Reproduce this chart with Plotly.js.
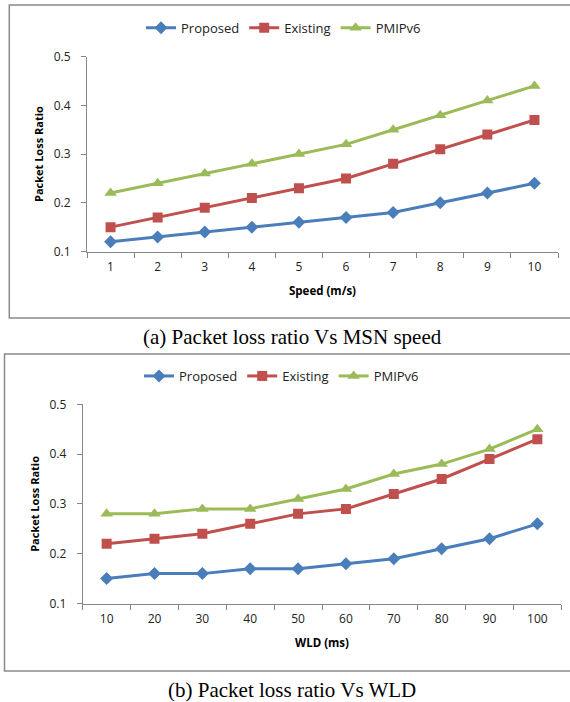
<!DOCTYPE html>
<html>
<head>
<meta charset="utf-8">
<script src="https://cdn.plot.ly/plotly-3.0.1.min.js"></script>
<style>
  html, body { margin: 0; padding: 0; background: #ffffff; }
  #chart { width: 570px; height: 702px; }
</style>
</head>
<body>
<div id="chart"></div>
<script>
// ---- Data ----
const speedLabels = ['1','2','3','4','5','6','7','8','9','10'];
const wldLabels = ['10','20','30','40','50','60','70','80','90','100'];
const seriesNames = ['Proposed', 'Existing', 'PMIPv6'];

const speedProposed = [0.12, 0.13, 0.14, 0.15, 0.16, 0.17, 0.18, 0.20, 0.22, 0.24];
const speedExisting = [0.15, 0.17, 0.19, 0.21, 0.23, 0.25, 0.28, 0.31, 0.34, 0.37];
const speedPMIPv6   = [0.22, 0.24, 0.26, 0.28, 0.30, 0.32, 0.35, 0.38, 0.41, 0.44];

const wldProposed = [0.15, 0.16, 0.16, 0.17, 0.17, 0.18, 0.19, 0.21, 0.23, 0.26];
const wldExisting = [0.22, 0.23, 0.24, 0.26, 0.28, 0.29, 0.32, 0.35, 0.39, 0.43];
const wldPMIPv6   = [0.28, 0.28, 0.29, 0.29, 0.31, 0.33, 0.36, 0.38, 0.41, 0.45];

const yTickVals = [0.1, 0.2, 0.3, 0.4, 0.5];
const yTickText = ['0.1', '0.2', '0.3', '0.4', '0.5'];

const captionA = '(a) Packet loss ratio Vs MSN speed';
const captionB = '(b) Packet loss ratio Vs WLD';
const yTitle = 'Packet Loss Ratio';
const xTitleA = 'Speed (m/s)';
const xTitleB = 'WLD (ms)';

// ---- Styles ----
const W = 570, H = 702;
const px = v => v / W;
const py = v => 1 - v / H;
const colors = ['#4A7EBB', '#C0504D', '#9BBB59'];
const symbols = ['diamond', 'square', 'triangle-up'];
const msizes = [10, 10, 11];
const uiFont = '"Open Sans", "Noto Sans", sans-serif';
const textColor = '#222222';
const axisColor = '#868686';

function mk(x, y, i, xa, ya, legendId) {
  return {
    type: 'scatter', mode: 'lines+markers',
    x: x, y: y, name: seriesNames[i],
    xaxis: xa, yaxis: ya, legend: legendId,
    line: { color: colors[i], width: 3 },
    marker: { color: colors[i], symbol: symbols[i], size: msizes[i], line: { width: 0 } }
  };
}

const data = [
  mk(speedLabels, speedProposed, 0, 'x', 'y', 'legend'),
  mk(speedLabels, speedExisting, 1, 'x', 'y', 'legend'),
  mk(speedLabels, speedPMIPv6, 2, 'x', 'y', 'legend'),
  mk(wldLabels, wldProposed, 0, 'x2', 'y2', 'legend2'),
  mk(wldLabels, wldExisting, 1, 'x2', 'y2', 'legend2'),
  mk(wldLabels, wldPMIPv6, 2, 'x2', 'y2', 'legend2')
];

function xAxis(domain, cats, title, anchor) {
  return {
    domain: domain, anchor: anchor, type: 'category',
    categoryorder: 'array', categoryarray: cats,
    range: [-0.5, cats.length - 0.5],
    showline: true, linecolor: axisColor, linewidth: 1,
    ticks: 'outside', tickson: 'boundaries', ticklen: 5, tickcolor: axisColor, tickwidth: 1,
    showgrid: false, zeroline: false,
    tickfont: { family: uiFont, size: 12, color: textColor },
    ticklabelstandoff: 4,
    title: { text: title, font: { family: uiFont, size: 11.5, color: '#000', weight: 'bold' }, standoff: 13 },
    fixedrange: true
  };
}
function yAxis(domain, anchor) {
  return {
    domain: domain, anchor: anchor,
    range: [0.1, 0.5], tickvals: yTickVals, ticktext: yTickText,
    showline: true, linecolor: axisColor, linewidth: 1,
    ticks: 'outside', ticklen: 5, tickcolor: axisColor, tickwidth: 1,
    showgrid: false, zeroline: false,
    tickfont: { family: uiFont, size: 12, color: textColor },
    ticklabelstandoff: 8,
    title: { text: yTitle, font: { family: uiFont, size: 11, color: '#000', weight: 'bold' }, standoff: 7 },
    fixedrange: true
  };
}

function legendAt(xPx, yPx) {
  return {
    orientation: 'h', x: px(xPx), y: py(yPx), xanchor: 'left', yanchor: 'middle',
    xref: 'paper', yref: 'paper',
    font: { family: uiFont, size: 13, color: textColor },
    bgcolor: 'rgba(0,0,0,0)', borderwidth: 0, itemclick: false, itemdoubleclick: false
  };
}

const layout = {
  width: W, height: H,
  margin: { l: 0, r: 0, t: 0, b: 0 },
  paper_bgcolor: '#ffffff', plot_bgcolor: '#ffffff',
  showlegend: true,
  xaxis: xAxis([px(87), px(558)], speedLabels, xTitleA, 'y'),
  yaxis: yAxis([py(251.5), py(56.7)], 'x'),
  xaxis2: xAxis([px(82.7), px(561.3)], wldLabels, xTitleB, 'y2'),
  yaxis2: yAxis([py(603.5), py(404.3)], 'x2'),
  legend: legendAt(141, 27.7),
  legend2: legendAt(139, 376),
  shapes: [
    { type: 'rect', xref: 'paper', yref: 'paper', x0: px(9.3), x1: px(580), y0: py(318), y1: py(5),
      line: { color: '#8a8a8a', width: 1.5 }, fillcolor: 'rgba(0,0,0,0)', layer: 'below' },
    { type: 'rect', xref: 'paper', yref: 'paper', x0: px(4.5), x1: px(580), y0: py(671), y1: py(354),
      line: { color: '#8a8a8a', width: 1.5 }, fillcolor: 'rgba(0,0,0,0)', layer: 'below' }
  ],
  annotations: [
    { text: captionA, xref: 'paper', yref: 'paper', x: px(292), y: py(337), xanchor: 'center', yanchor: 'middle',
      showarrow: false, font: { family: '"Liberation Serif", "DejaVu Serif", serif', size: 21, color: '#000' } },
    { text: captionB, xref: 'paper', yref: 'paper', x: px(292), y: py(690), xanchor: 'center', yanchor: 'middle',
      showarrow: false, font: { family: '"Liberation Serif", "DejaVu Serif", serif', size: 21, color: '#000' } }
  ]
};

Plotly.newPlot('chart', data, layout, { staticPlot: true, displayModeBar: false });
</script>
</body>
</html>
